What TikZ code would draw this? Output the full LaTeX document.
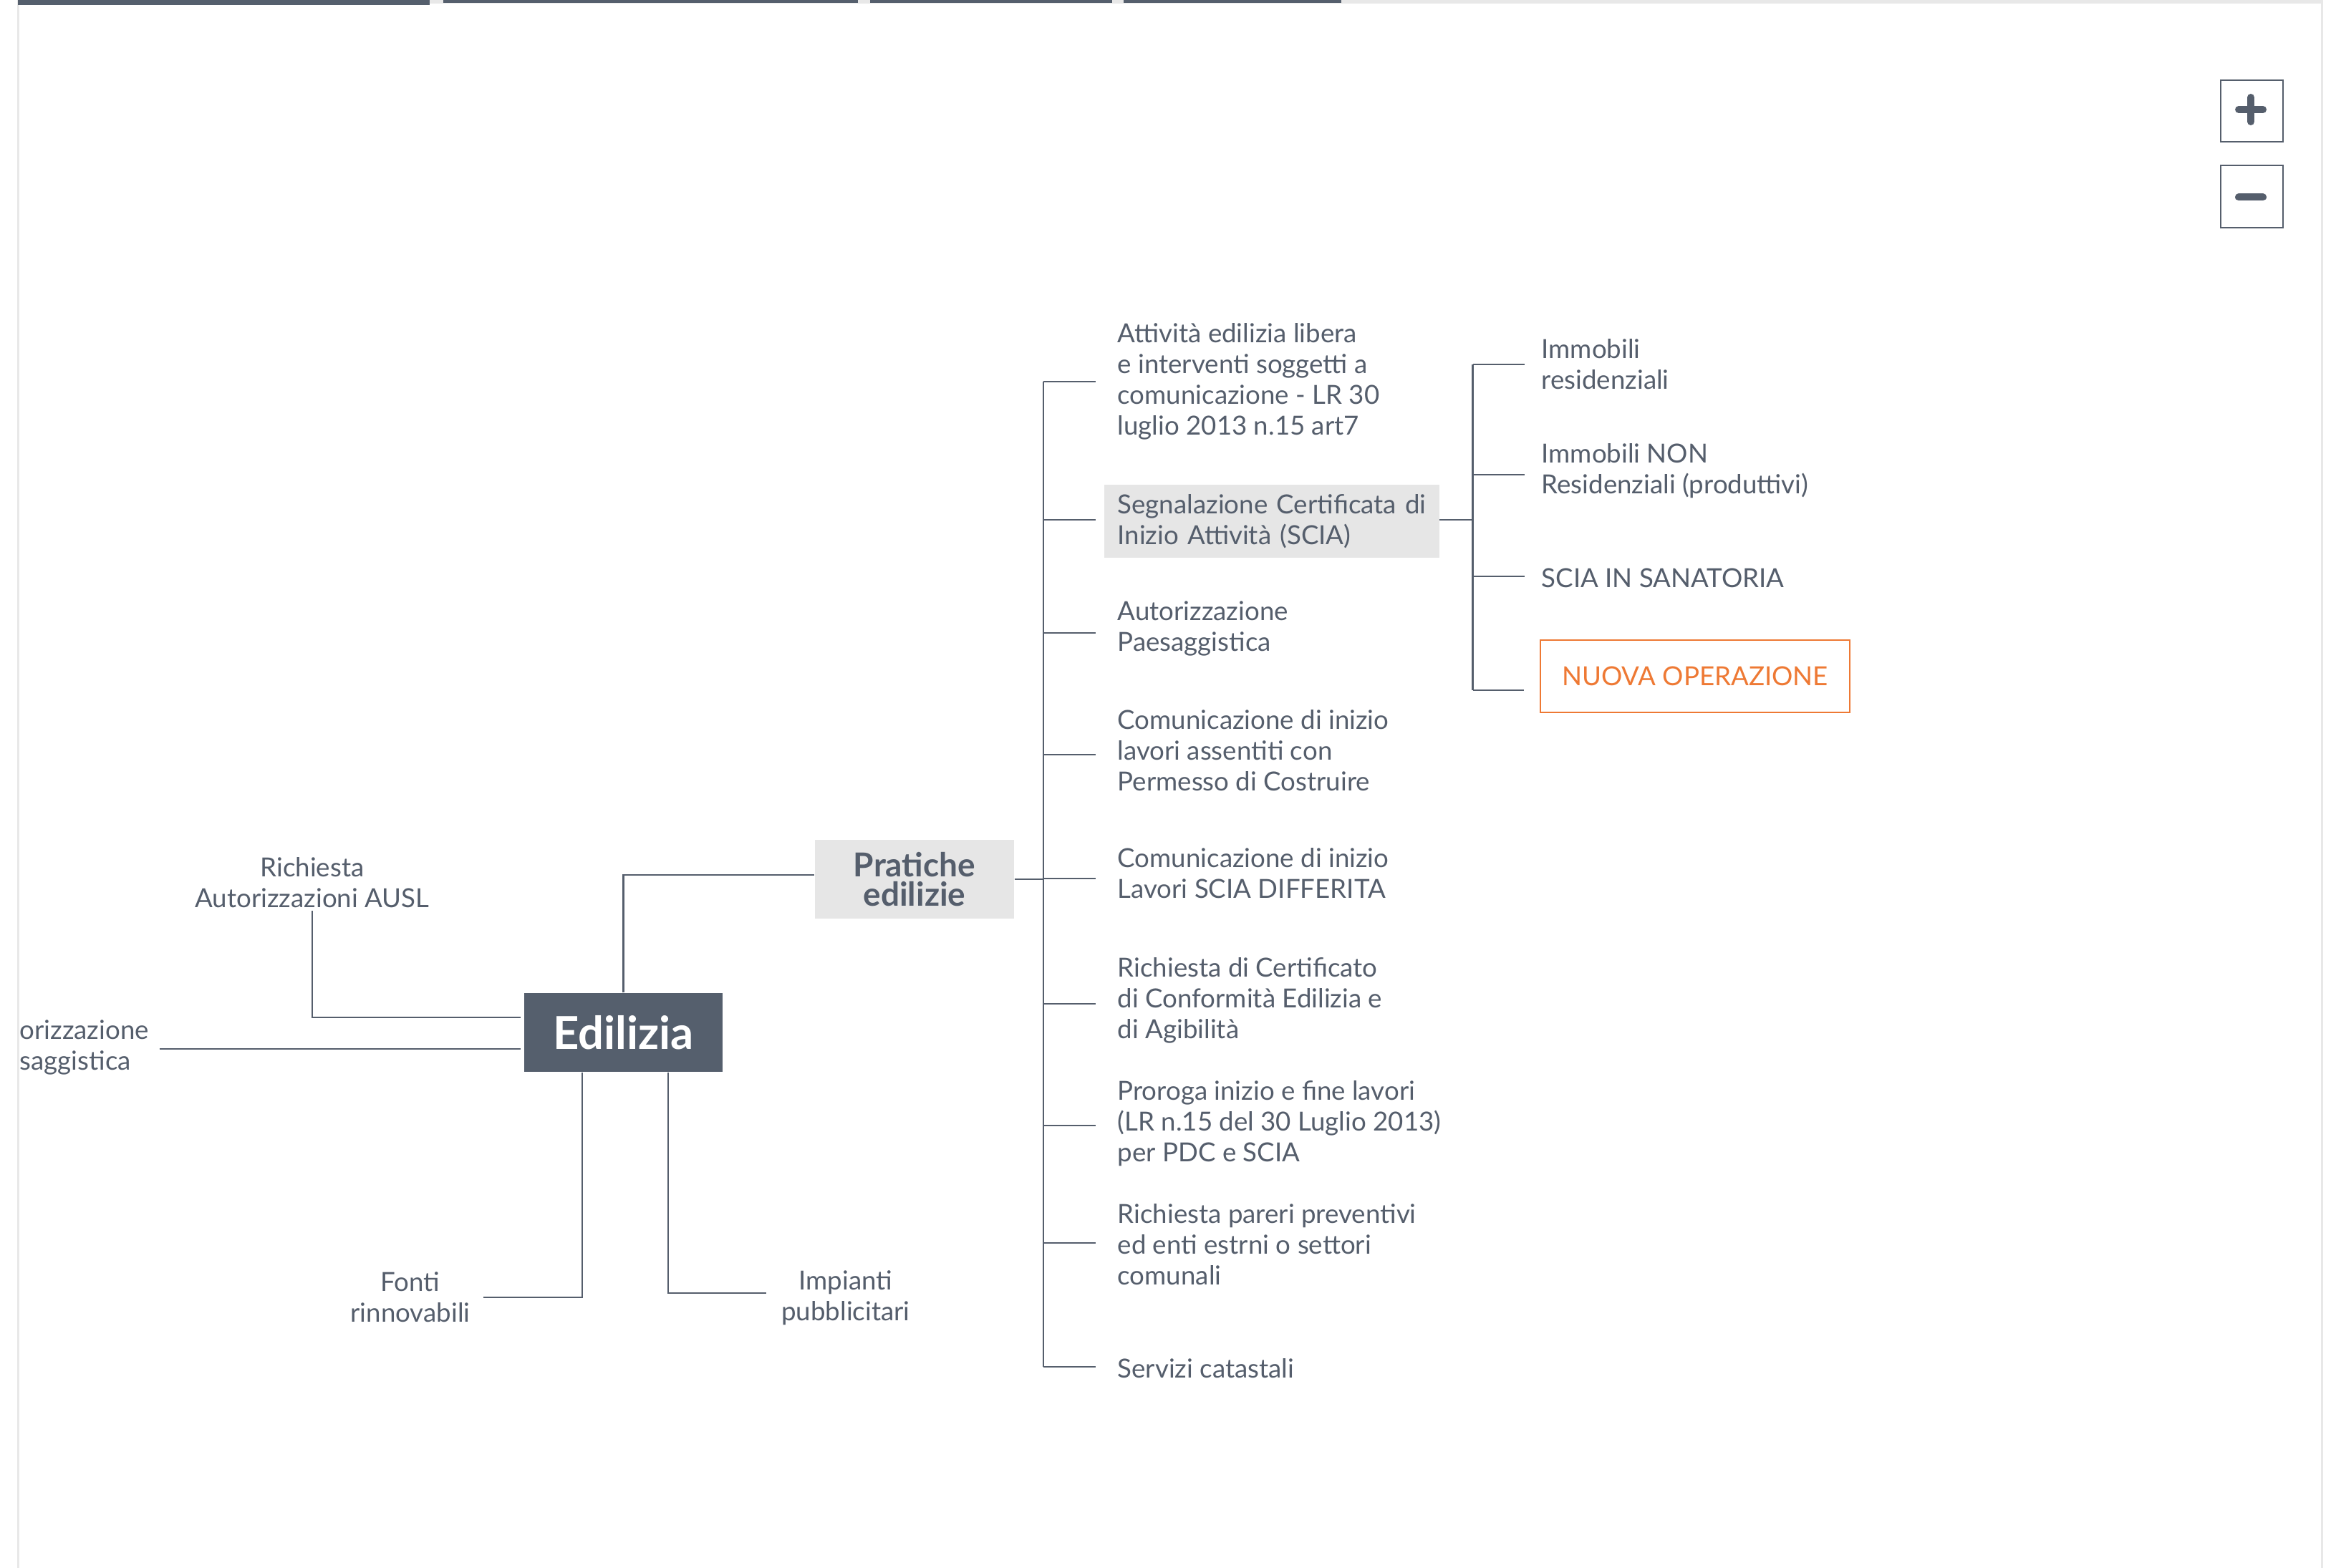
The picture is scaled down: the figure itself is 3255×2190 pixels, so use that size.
\documentclass[tikz,border=0pt]{standalone}
\usepackage{fontspec}
\setmainfont{Lato}
\usetikzlibrary{calc}
\definecolor{ink}{RGB}{85,94,108}
\definecolor{darkbox}{RGB}{85,95,109}
\definecolor{lightbox}{RGB}{230,230,230}
\definecolor{orangec}{RGB}{238,121,52}
\definecolor{edge}{RGB}{232,232,232}
\begin{document}
\begin{tikzpicture}[x=0.3pt,y=-0.3pt,
  conn/.style={draw=ink,line width=0.8pt},
  itemtxt/.style={font=\fontsize{11pt}{12.9pt}\selectfont,text=ink,align=left,anchor=west,inner xsep=5.7pt,inner ysep=2pt},
  ctrtxt/.style={font=\fontsize{11pt}{12.9pt}\selectfont,text=ink,align=center,inner sep=0pt},
  sciabox/.style={itemtxt,fill=lightbox,text width=129pt,minimum height=30.6pt},
  newop/.style={draw=orangec,line width=0.6pt,text=orangec,font=\fontsize{11pt}{12.9pt}\selectfont,minimum width=129.6pt,minimum height=30.3pt,inner sep=0pt},
  rootbox/.style={fill=darkbox,text=white,font=\fontsize{19pt}{21pt}\selectfont\bfseries,minimum width=83.1pt,minimum height=33pt,inner sep=0pt},
  midbox/.style={fill=lightbox,text=ink,font=\fontsize{13.8pt}{12.2pt}\selectfont\bfseries,align=center,minimum width=83.4pt,minimum height=33pt,inner sep=0pt},
  btn/.style={draw=ink,line width=0.6pt},
  btnmark/.style={draw=ink,line width=3pt,line cap=round}
]
\useasboundingbox (0,0) rectangle (3255,2190);
% page frame and tabs
\fill[white] (0,0) rectangle (3255,2190);
\fill[edge] (25,0) rectangle (3242,5);
\draw[edge,line width=0.9pt] (25,0) -- (25,2190);
\draw[edge,line width=0.9pt] (3242,0) -- (3242,2190);
\fill[darkbox] (25,0) rectangle (600,7);
\fill[darkbox] (619,0) rectangle (1198,4);
\fill[darkbox] (1215,0) rectangle (1553,4);
\fill[darkbox] (1569,0) rectangle (1873,4);
% zoom buttons
\draw[btn] (3101,112) rectangle (3188,198);
\draw[btnmark] (3126,153) -- (3160,153);
\draw[btnmark] (3143,136) -- (3143,170);
\draw[btn] (3101,231) rectangle (3188,318);
\draw[btnmark] (3126,275.5) -- (3160,275.5);

% central nodes
\node[rootbox] (edilizia) at (870.5,1442) {Edilizia};
\node[midbox] (pratiche) at (1277,1228) {Pratiche\\edilizie};

% left side nodes
\node[ctrtxt] (ausl) at (436,1233) {Richiesta\\Autorizzazioni AUSL};
\node[ctrtxt,align=left,anchor=west] (paes) at (27,1463) {orizzazione\\saggistica};
\node[ctrtxt] (fonti) at (573,1812) {Fonti\\rinnovabili};
\node[ctrtxt] (impianti) at (1181,1813) {Impianti\\pubblicitari};

\coordinate (eW1) at ([yshift=6.3pt]edilizia.west);
\coordinate (eW2) at ([yshift=-6.9pt]edilizia.west);
\coordinate (pE) at ([xshift=4.2pt]paes.east);
\draw[conn] ([yshift=-1pt]ausl.south) |- ([xshift=-1.2pt]eW1);
\draw[conn] (pE |- eW2) -- ([xshift=-1.2pt]eW2);
\draw[conn] ([xshift=5.4pt]fonti.east |- 0,1812) -| ([xshift=-17.25pt]edilizia.south);
\draw[conn] ([xshift=18.75pt]edilizia.south) |- ([xshift=-6.3pt]impianti.west |- 0,1806);
\draw[conn] (edilizia.north) |- ([yshift=1.8pt]pratiche.west);

% main items
\coordinate (tr) at (1457,533);
\node[itemtxt] (i1) at (1541,533) {Attività edilizia libera\\e interventi soggetti a\\comunicazione - LR 30\\luglio 2013 n.15 art7};
\node[sciabox] (i2) at (1541,728) {\mbox{Segnalazione Certificata di}\\\mbox{Inizio Attività (SCIA)}};
\node[itemtxt] (i3) at (1541,878) {Autorizzazione\\Paesaggistica};
\node[itemtxt] (i4) at (1541,1048) {Comunicazione di inizio\\lavori assentiti con\\Permesso di Costruire};
\node[itemtxt] (i5) at (1541,1220) {Comunicazione di inizio\\Lavori SCIA DIFFERITA};
\node[itemtxt] (i6) at (1541,1397) {Richiesta di Certificato\\di Conformità Edilizia e\\di Agibilità};
\node[itemtxt] (i7) at (1541,1569) {Proroga inizio e fine lavori\\(LR n.15 del 30 Luglio 2013)\\per PDC e SCIA};
\node[itemtxt] (i8) at (1541,1738) {Richiesta pareri preventivi\\ed enti estrni o settori\\comunali};
\node[itemtxt] (i9) at (1541,1911) {Servizi catastali};

\draw[conn] (tr) -- (tr |- 0,1909);
\draw[conn] (tr |- 0,533) -- ([xshift=-3.3pt]i1.west |- 0,533);
\draw[conn] (tr |- 0,726) -- ([xshift=-3.3pt]i2.west |- 0,726);
\draw[conn] (tr |- 0,884) -- ([xshift=-3.3pt]i3.west |- 0,884);
\draw[conn] (tr |- 0,1054) -- ([xshift=-3.3pt]i4.west |- 0,1054);
\draw[conn] (tr |- 0,1227) -- ([xshift=-3.3pt]i5.west |- 0,1227);
\draw[conn] (tr |- 0,1402) -- ([xshift=-3.3pt]i6.west |- 0,1402);
\draw[conn] (tr |- 0,1572) -- ([xshift=-3.3pt]i7.west |- 0,1572);
\draw[conn] (tr |- 0,1736) -- ([xshift=-3.3pt]i8.west |- 0,1736);
\draw[conn] (tr |- 0,1909) -- ([xshift=-3.3pt]i9.west |- 0,1909);
\draw[conn] (pratiche.east) -- (pratiche.east -| tr);

% sub items of SCIA
\coordinate (sb) at (2056.5,509);
\node[itemtxt] (s1) at (2133,509) {Immobili\\residenziali};
\node[itemtxt] (s2) at (2133,658) {Immobili NON\\Residenziali (produttivi)};
\node[itemtxt] (s3) at (2133,807) {SCIA IN SANATORIA};
\node[newop] (s4) at (2367,944) {NUOVA OPERAZIONE};

\draw[conn] (sb) -- (sb |- 0,964);
\draw[conn] (sb |- 0,509) -- ([xshift=-1.2pt]s1.west |- 0,509);
\draw[conn] (sb |- 0,663) -- ([xshift=-1.2pt]s2.west |- 0,663);
\draw[conn] (sb |- 0,805) -- ([xshift=-1.2pt]s3.west |- 0,805);
\draw[conn] (sb |- 0,964) -- ([xshift=-6.6pt]s4.west |- 0,964);
\draw[conn] (i2.east |- 0,726) -- (sb |- 0,726);
\end{tikzpicture}
\end{document}
